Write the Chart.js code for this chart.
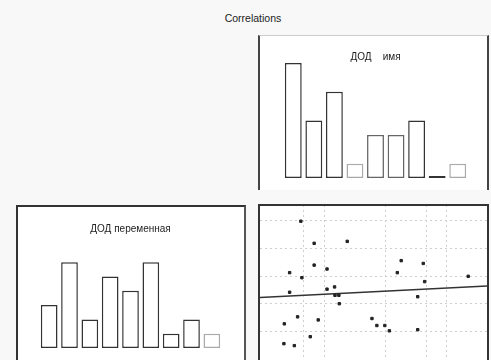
<!DOCTYPE html>
<html>
<head>
<meta charset="utf-8">
<script src="https://cdn.jsdelivr.net/npm/chart.js@4/dist/chart.umd.min.js"></script>
<style>
  html, body { margin: 0; padding: 0; }
  body { width: 491px; height: 360px; overflow: hidden; background: #f8f8f8; position: relative; font-family: "Liberation Sans", Arial, sans-serif; }
  #title { position: absolute; left: 0; width: 506px; top: 12px; text-align: center; font-size: 10.5px; color: #222; }
  .panel { position: absolute; background: #fff; box-sizing: border-box; }
  .frame { position: absolute; box-sizing: border-box; pointer-events: none; }
  canvas { position: absolute; }
</style>
</head>
<body>
<div id="title">Correlations</div>

<div class="panel" style="left:258px; top:35px; width:231px; height:155px;"></div>
<div class="panel" style="left:16px; top:205px; width:230px; height:170px;"></div>
<div class="panel" style="left:258px; top:204px; width:231px; height:170px;"></div>

<canvas id="histTop" width="225" height="154" style="left:261px; top:36px; width:225px; height:154px;"></canvas>
<canvas id="histLeft" width="225" height="161" style="left:18px; top:207px; width:225px; height:161px;"></canvas>
<canvas id="scatter" width="227" height="170" style="left:260px; top:205px; width:227px; height:170px;"></canvas>

<div class="frame" style="left:258px; top:35px; width:231px; height:155px; border-left:2px solid #444; border-right:2px solid #444; border-top:1px solid #ccc;"></div>
<div class="frame" style="left:16px; top:205px; width:230px; height:170px; border-left:2px solid #333; border-right:2px solid #555; border-top:2px solid #333;"></div>
<div class="frame" style="left:258px; top:204px; width:231px; height:170px; border-left:2px solid #333; border-right:2px solid #333; border-top:2px solid #333;"></div>

<script>
const binLabels = ['1', '2', '3', '4', '5', '6', '7', '8', '9'];
const topCounts = [8, 4, 6, 1, 3, 3, 4, 0, 1];
const leftCounts = [3, 6, 2, 5, 4, 6, 1, 2, 1];
const topTitle = 'ДОД    имя';
const leftTitle = 'ДОД переменная';

const scatterX = [-0.15, 0.50, 2.12, 0.50, 1.13, -0.70, -0.10, 4.76, 5.84, 4.57, 5.91, 8.04, -0.70, 1.13, 1.50,
  1.52, 1.71, 1.73, 5.57, -0.31, 0.70, -0.96, 3.33, 3.57, 3.96, 4.18, 5.57, 0.31, -0.98, -0.47];
const scatterY = [4.96, 4.17, 4.24, 3.39, 3.25, 3.12, 2.94, 3.55, 3.45, 3.12, 2.80, 2.99, 2.42, 2.53, 2.61,
  2.31, 2.31, 2.01, 2.26, 1.54, 1.43, 1.29, 1.48, 1.23, 1.23, 1.04, 1.08, 0.83, 0.58, 0.51];
const fitX = [-2.15, 8.96];
const fitY = [2.23, 2.64];
const xGridTicks = [0, 1, 4, 6, 7];
const yGridTicks = [1, 2, 3, 4, 5];

function histogram(id, counts, title, colors, yMax, pad, titlePad) {
  new Chart(document.getElementById(id), {
    type: 'bar',
    data: {
      labels: binLabels,
      datasets: [{
        data: counts,
        backgroundColor: '#fff',
        borderColor: colors,
        borderWidth: 1.5,
        borderSkipped: false,
        minBarLength: 2,
        categoryPercentage: 1,
        barPercentage: 0.82
      }]
    },
    options: {
      responsive: false,
      animation: false,
      layout: { padding: pad },
      plugins: {
        legend: { display: false },
        tooltip: { enabled: false },
        title: {
          display: true,
          text: title,
          color: '#222',
          font: { family: 'Liberation Sans', size: 10, weight: 'normal' },
          padding: { top: titlePad, bottom: 0 }
        }
      },
      scales: {
        x: { display: false },
        y: { display: false, min: 0, max: yMax }
      }
    }
  });
}

histogram('histTop', topCounts, topTitle,
  ['#333', '#333', '#333', '#aaa', '#666', '#666', '#333', '#333', '#aaa'],
  8, { left: 22, right: 18, bottom: 12, top: 0 }, 15);

histogram('histLeft', leftCounts, leftTitle,
  ['#333', '#333', '#333', '#333', '#333', '#333', '#333', '#333', '#aaa'],
  7.9, { left: 21, right: 21, bottom: 20, top: 0 }, 16);

const gridAxis = (min, max, ticks) => ({
  type: 'linear',
  min: min,
  max: max,
  afterBuildTicks: (scale) => { scale.ticks = ticks.map((v) => ({ value: v })); },
  ticks: { display: false },
  grid: { color: '#cfcfcf', lineWidth: 1, drawTicks: false },
  border: { display: false, dash: [2, 3] }
});

new Chart(document.getElementById('scatter'), {
  type: 'scatter',
  data: {
    datasets: [
      {
        data: scatterX.map((x, i) => ({ x: x, y: scatterY[i] })),
        pointStyle: 'rect',
        pointRadius: 1.7,
        pointBackgroundColor: '#222',
        pointBorderColor: '#222',
        pointBorderWidth: 1
      },
      {
        type: 'line',
        data: fitX.map((x, i) => ({ x: x, y: fitY[i] })),
        borderColor: '#333',
        borderWidth: 1.5,
        pointRadius: 0,
        fill: false
      }
    ]
  },
  options: {
    responsive: false,
    animation: false,
    layout: { padding: 0, autoPadding: false },
    plugins: { legend: { display: false }, tooltip: { enabled: false } },
    scales: {
      x: gridAxis(-2.15, 8.96, xGridTicks),
      y: gridAxis(-0.54, 5.54, yGridTicks)
    }
  }
});
</script>
</body>
</html>
